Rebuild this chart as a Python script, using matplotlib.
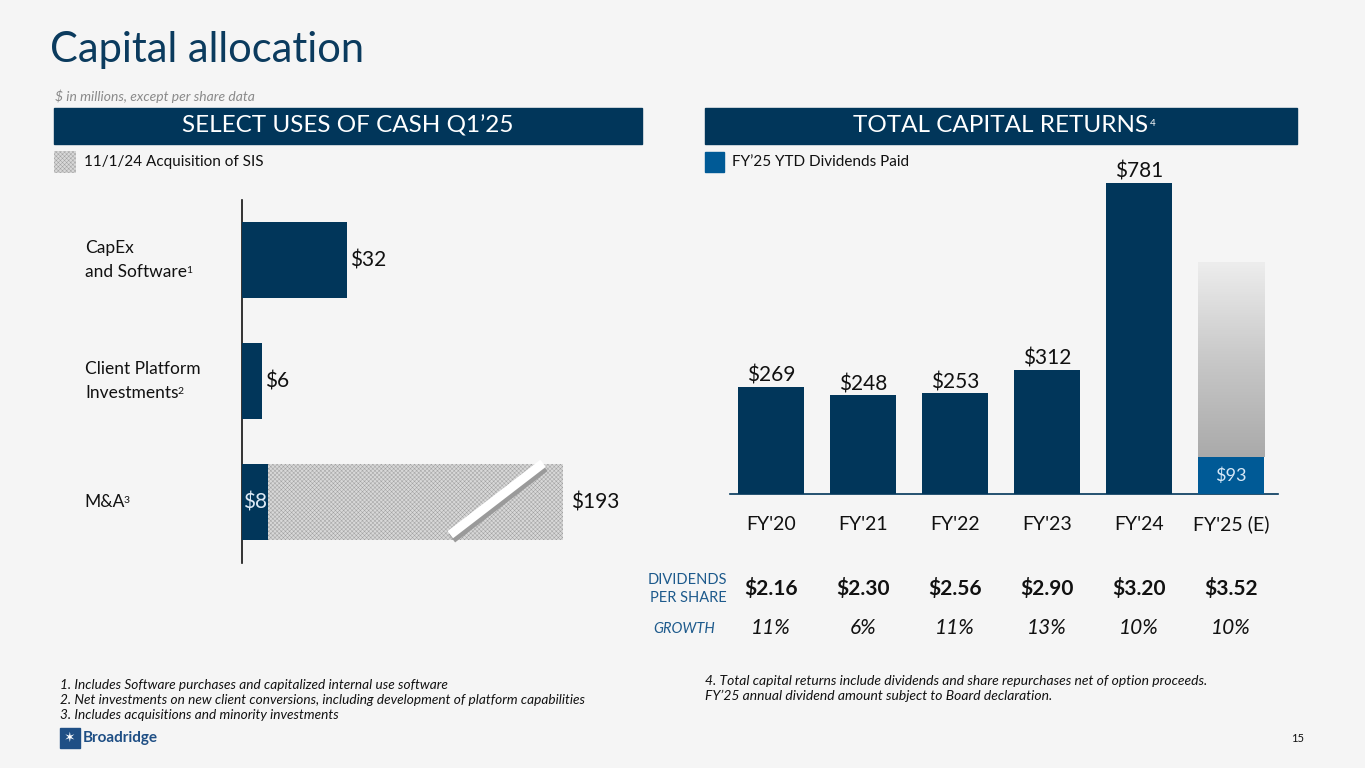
import numpy as np
import matplotlib
matplotlib.use("Agg")
import matplotlib.pyplot as plt
from matplotlib.colors import LinearSegmentedColormap
from matplotlib.patches import Rectangle

plt.rcParams['font.family'] = ['Lato', 'DejaVu Sans']
plt.rcParams['hatch.color'] = '#a2a2a2'
plt.rcParams['hatch.linewidth'] = 0.35

# ---- data ----
use_labels = ['CapEx\nand Software', 'Client Platform\nInvestments', 'M&A']
use_notes = ['1', '2', '3']
use_values = [32, 6, 8]
mna_acquisition = 193      # shown as a truncated hatched bar
mna_display_cap = 98       # where the broken bar is cut on the axis

years = ["FY'20", "FY'21", "FY'22", "FY'23", "FY'24", "FY'25 (E)"]
returns = [269, 248, 253, 312, 781]
fy25_ytd = 93
fy25_estimate = 582
dps = [2.16, 2.30, 2.56, 2.90, 3.20, 3.52]
growth = [11, 6, 11, 13, 10, 10]

NAVY = '#01365a'
BLUE = '#005a96'
BG = '#f5f5f5'
HATCH_FACE = '#d8d8d8'
W, H = 1365, 768


def fx(x):
    return x / W


def fy(y):
    return 1 - y / H


fig = plt.figure(figsize=(13.65, 7.68), dpi=100, facecolor=BG)

# title and header bands
fig.text(fx(50), fy(50), 'Capital allocation', fontsize=30, color='#0b3b5e', va='center')
fig.text(fx(55), fy(96), '$ in millions, except per share data', fontsize=10,
         style='italic', color='#8a8a8a', va='center')
for x0, x1, label in [(54, 642, 'SELECT USES OF CASH Q1\u201925'),
                      (705, 1297, 'TOTAL CAPITAL RETURNS')]:
    fig.patches.append(Rectangle((fx(x0), fy(144)), fx(x1 - x0), 36 / H,
                                 transform=fig.transFigure, color=NAVY))
    t = fig.text(fx((x0 + x1) / 2), fy(126), label, fontsize=17.5, color='white',
                 ha='center', va='center')
fig.canvas.draw()
bb = t.get_window_extent()
fig.text(bb.x1 / W + 0.001, bb.y1 / H - 0.004, '4', fontsize=7, color='white', va='top')

# legends
fig.patches.append(Rectangle((fx(54), fy(173)), fx(22), 22 / H, transform=fig.transFigure,
                             facecolor=HATCH_FACE, hatch='xxxxxxxx', edgecolor='#a2a2a2', lw=0))
fig.text(fx(84), fy(162), '11/1/24 Acquisition of SIS', fontsize=11, color='#111111', va='center')
fig.patches.append(Rectangle((fx(705), fy(172)), fx(19), 20 / H, transform=fig.transFigure,
                             color=BLUE))
fig.text(fx(732), fy(162), 'FY\u201925 YTD Dividends Paid', fontsize=11, color='#111111', va='center')

# ---- left chart: select uses of cash ----
px_per_unit = 3.28
axl = fig.add_axes([fx(242), fy(563), fx(640 - 242), (563 - 200) / H])
axl.set_facecolor('none')
ypos = np.arange(len(use_values))
axl.barh(ypos, use_values, height=0.63, color=NAVY, zorder=3)
axl.barh(2, mna_display_cap - use_values[2], left=use_values[2], height=0.63,
         facecolor=HATCH_FACE, hatch='xxxxxxxx', edgecolor='#a2a2a2', lw=0, zorder=2)
# break mark
axl.plot([64.0, 92.2], [2.30, 1.71], color='#9a9a9a', lw=7.5, solid_capstyle='butt', zorder=4)
axl.plot([63.5, 91.8], [2.27, 1.68], color='white', lw=6.5, solid_capstyle='butt', zorder=5)
axl.set_xlim(0, (640 - 242) / px_per_unit)
axl.set_ylim(2.504, -0.496)
for s in ['top', 'right', 'bottom']:
    axl.spines[s].set_visible(False)
axl.spines['left'].set_color('#111111')
axl.spines['left'].set_linewidth(1.2)
axl.set_xticks([])
axl.set_yticks([])
axl.text(use_values[0] + 1, 0, f'${use_values[0]}', fontsize=15, va='center', color='#111111')
axl.text(use_values[1] + 1, 1, f'${use_values[1]}', fontsize=15, va='center', color='#111111')
axl.text(use_values[2] / 2, 2, f'${use_values[2]}', fontsize=15, va='center', ha='center',
         color='#dde9f5', zorder=6)
axl.text(mna_display_cap + 2.2, 2, f'${mna_acquisition}', fontsize=15, va='center', color='#111111')

label_y = [260, 381, 502]
for lab, note, yy in zip(use_labels, use_notes, label_y):
    lines = lab.split('\n')
    if len(lines) == 2:
        fig.text(fx(85), fy(yy - 12), lines[0], fontsize=12.5, va='center', color='#111111')
        t = fig.text(fx(85), fy(yy + 12), lines[1], fontsize=12.5, va='center', color='#111111')
    else:
        t = fig.text(fx(84), fy(yy), lines[0], fontsize=12.5, va='center', color='#111111')
    fig.canvas.draw()
    bb = t.get_window_extent()
    fig.text((bb.x1 - 1) / W, bb.y1 / H - 0.003, note, fontsize=7.5, va='top', color='#111111')

# ---- right chart: total capital returns ----
unit_px = 311 / 781
axr = fig.add_axes([fx(730), fy(494), fx(1278 - 730), (494 - 170) / H])
axr.set_facecolor('none')
xpos = np.arange(len(years))
bw = 66 / 92
axr.bar(xpos[:5], returns, width=bw, color=NAVY, zorder=3)
axr.bar(xpos[5], fy25_ytd, width=bw, color=BLUE, zorder=3)
grad = LinearSegmentedColormap.from_list('g', ['#aaaaaa', '#c8c8c8', '#ededed'])
axr.imshow(np.linspace(0, 1, 200).reshape(-1, 1), cmap=grad, origin='lower',
           extent=[xpos[5] - bw / 2, xpos[5] + bw / 2, fy25_ytd, fy25_estimate],
           aspect='auto', zorder=2)
axr.set_xlim(-0.446, 5.51)
axr.set_ylim(0, (494 - 170) / unit_px)
for s in ['top', 'right', 'left']:
    axr.spines[s].set_visible(False)
axr.spines['bottom'].set_color(NAVY)
axr.spines['bottom'].set_linewidth(1.2)
axr.set_yticks([])
axr.set_xticks([])
for i, yr in enumerate(years):
    axr.text(xpos[i], -36 / unit_px, yr, fontsize=14, ha='center', va='baseline',
             color='#111111', clip_on=False)
for i, v in enumerate(returns):
    axr.text(xpos[i], v + 1 / unit_px, f'${v}', fontsize=15, ha='center', va='bottom',
             color='#111111')
axr.text(xpos[5], fy25_ytd / 2, f'${fy25_ytd}', fontsize=13, ha='center', va='center',
         color='#d6e8f7', zorder=4)

# dividends per share and growth rows
fig.text(fx(727), fy(580), 'DIVIDENDS', fontsize=10.5, ha='right', va='center', color='#1d5a8c')
fig.text(fx(727), fy(598), 'PER SHARE', fontsize=10.5, ha='right', va='center', color='#1d5a8c')
fig.text(fx(715), fy(629), 'GROWTH', fontsize=10.5, ha='right', va='center', color='#1d5a8c',
         style='italic')
for i in range(len(years)):
    xc = 771 + 92 * i
    fig.text(fx(xc), fy(589), f'${dps[i]:.2f}', fontsize=15, fontweight='bold', ha='center',
             va='center', color='#111111')
    fig.text(fx(xc), fy(628), f'{growth[i]}%', fontsize=15, style='italic', ha='center',
             va='center', color='#111111')

# footnotes
for i, line in enumerate(['1. Includes Software purchases and capitalized internal use software',
                          '2. Net investments on new client conversions, including development of platform capabilities',
                          '3. Includes acquisitions and minority investments']):
    fig.text(fx(60), fy(685 + 15 * i), line, fontsize=9.8, style='italic', va='center', color='#111111')
for i, line in enumerate(['4. Total capital returns include dividends and share repurchases net of option proceeds.',
                          'FY\u201925 annual dividend amount subject to Board declaration.']):
    fig.text(fx(705), fy(681 + 15 * i), line, fontsize=10, style='italic', va='center', color='#111111')

# logo and page number
fig.patches.append(Rectangle((fx(60), fy(748)), fx(20), 20 / H, transform=fig.transFigure,
                             color='#1f4f85'))
fig.text(fx(70), fy(738), '\u2736', fontsize=10, color='white', ha='center', va='center')
fig.text(fx(83), fy(738), 'Broadridge', fontsize=11, fontweight='bold', color='#1f4f85', va='center')
fig.text(fx(1298), fy(739), '15', fontsize=8, color='#111111', ha='center', va='center')

fig.savefig('out.png', dpi=100, facecolor=BG)
